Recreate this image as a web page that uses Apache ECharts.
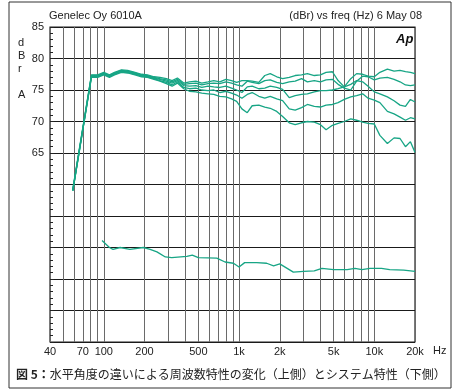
<!DOCTYPE html>
<html>
<head>
<meta charset="utf-8">
<script src="https://cdn.jsdelivr.net/npm/echarts@6/dist/echarts.min.js"></script>
<style>
  html, body { margin: 0; padding: 0; background: #fff; }
  #chart { width: 455px; height: 391px; }
</style>
</head>
<body>
<div id="chart"></div>
<script>
// frequency points (Hz) for the angle curves
const freq = [59, 81, 90, 100, 110, 120, 135, 150, 170, 190, 210, 235, 260, 290, 320, 350, 390,
  430, 480, 530, 590, 650, 720, 800, 880, 960, 1050, 1150, 1250, 1400, 1550, 1700, 1900, 2100,
  2350, 2600, 2900, 3200, 3600, 4000, 4400, 4900, 5400, 6000, 6700, 7400, 8200, 9000, 10000,
  11000, 12500, 14000, 15500, 17000, 18500, 20000];

// dBr, one curve per horizontal angle
const curveA = [59.3, 77.4, 77.4, 77.8, 77.4, 77.8, 78.2, 78.1, 77.8, 77.5, 77.4, 77.1, 77.0, 76.8, 76.5, 76.9, 76.1,
  76.3, 76.4, 76.1, 76.3, 76.5, 76.3, 76.7, 76.5, 76.2, 76.5, 76.5, 76.4, 76.2, 77.3, 77.6, 77.1, 76.8,
  77.0, 77.3, 77.4, 77.6, 77.3, 77.4, 77.8, 77.9, 76.5, 75.5, 76.8, 77.6, 77.5, 77.2, 77.1,
  77.8, 78.3, 78.0, 78.1, 77.9, 77.8, 77.6];
const curveB = [59.1, 77.3, 77.3, 77.7, 77.3, 77.7, 78.1, 78.0, 77.7, 77.4, 77.3, 77.0, 76.8, 76.6, 76.3, 76.7, 75.9,
  76.0, 76.1, 75.8, 76.0, 76.1, 76.0, 76.3, 76.1, 75.8, 75.6, 76.4, 76.2, 76.0, 76.5, 76.6, 76.2, 76.0,
  76.3, 76.4, 76.8, 76.3, 76.5, 76.3, 76.6, 76.7, 75.9, 75.3, 75.0, 76.4, 77.2, 77.1, 76.6,
  76.9, 77.0, 76.7, 76.3, 75.8, 75.7, 75.8];
const curveC = [59.1, 77.2, 77.2, 77.6, 77.2, 77.6, 78.0, 77.9, 77.6, 77.3, 77.2, 76.9, 76.7, 76.4, 76.1, 76.5, 75.7,
  75.6, 75.7, 75.4, 75.6, 75.5, 75.4, 75.6, 75.3, 75.0, 74.6, 75.5, 75.6, 75.2, 75.3, 75.6, 75.4, 75.1,
  73.8, 74.1, 74.3, 74.4, 74.7, 74.9, 74.9, 75.0, 75.2, 75.5, 75.9, 76.5, 76.3, 75.6, 74.7,
  74.4, 73.9, 73.3, 72.6, 72.4, 73.5, 73.1];
const curveD = [59.0, 77.1, 77.1, 77.5, 77.1, 77.5, 77.9, 77.8, 77.5, 77.2, 77.1, 76.8, 76.5, 76.2, 75.8, 76.3, 75.4,
  75.2, 75.3, 75.0, 74.9, 75.0, 74.6, 74.8, 74.5, 74.2, 73.7, 74.3, 74.6, 74.0, 73.7, 74.0, 73.6, 73.3,
  72.0, 71.8, 72.2, 72.7, 72.4, 72.3, 72.6, 72.7, 73.0, 73.5, 73.9, 74.1, 74.4, 73.7, 73.4,
  73.0, 71.6, 71.2, 70.7, 70.2, 70.6, 70.4];
const curveE = [59.0, 77.0, 77.0, 77.4, 77.0, 77.4, 77.8, 77.7, 77.4, 77.1, 77.0, 76.7, 76.4, 76.0, 75.6, 76.1, 75.2,
  74.8, 74.7, 74.5, 74.4, 74.3, 74.0, 73.9, 73.6, 73.2, 72.0, 71.4, 72.5, 72.6, 72.3, 72.1, 71.6, 70.8,
  69.8, 69.5, 69.8, 70.0, 69.9, 69.5, 68.7, 69.4, 69.7, 70.0, 70.4, 70.2, 69.9, 69.7, 69.6,
  67.8, 66.5, 67.4, 67.3, 66.0, 66.8, 65.1];

// system response (lower curve)
const sysFreq = [97, 110, 117, 132, 156, 196, 220, 247, 285, 318, 411, 451, 500, 684, 788, 909,
  1000, 1100, 1350, 1600, 1800, 2000, 2520, 3000, 3600, 4100, 5000, 6300, 7200, 8100, 9300,
  11300, 13000, 16500, 20000];
const sysVal = [51.1, 50.0, 49.7, 50.0, 49.7, 50.0, 49.7, 49.3, 48.5, 48.4, 48.6, 48.8, 48.4, 48.3, 47.7, 47.5,
  46.9, 47.6, 47.6, 47.5, 47.1, 47.4, 46.1, 46.2, 46.3, 46.7, 46.5, 46.5, 46.7, 46.5, 46.7,
  46.7, 46.5, 46.4, 46.2];

// axis grid / labels
const gridFreqs = [40, 50, 60, 70, 80, 90, 100, 200, 300, 400, 500, 600, 700, 800, 900,
  1000, 2000, 3000, 4000, 5000, 6000, 7000, 8000, 9000, 10000, 20000];
const labelFreqs = [40, 70, 100, 200, 500, 1000, 2000, 5000, 10000, 20000];
const yLabels = [65, 70, 75, 80, 85];

const lineColor = "#17a585";
const font = "'Liberation Sans', Arial, sans-serif";

const zip = (xs, ys) => xs.map((x, i) => [x, ys[i]]);

const chart = echarts.init(document.getElementById("chart"));

const makeSeries = (data) => ({
  type: "line",
  data: data,
  symbol: "none",
  lineStyle: { width: 1.3, color: lineColor },
  itemStyle: { color: lineColor },
  silent: true,
});

chart.setOption({
  animation: false,
  grid: {
    left: 50,
    right: 40,
    top: 27,
    bottom: 49,
    show: true,
    borderColor: "#222",
    borderWidth: 1.2,
  },
  xAxis: {
    type: "log",
    logBase: 10,
    min: 40,
    max: 20000,
    axisLine: { show: false },
    axisTick: { show: false, customValues: gridFreqs },
    splitLine: { show: true, lineStyle: { color: "#6a6a6a", width: 1 } },
    axisLabel: {
      customValues: labelFreqs,
      margin: 4,
      fontFamily: font,
      fontSize: 11,
      color: "#222",
      formatter: (v) => (v >= 1000 ? v / 1000 + "k" : String(v)),
    },
  },
  yAxis: {
    type: "value",
    min: 35,
    max: 85,
    interval: 5,
    axisLine: { show: false },
    axisTick: { show: true, inside: true, length: 4, lineStyle: { color: "#222" } },
    minorTick: { show: true, splitNumber: 5, length: 3, lineStyle: { color: "#222" } },
    splitLine: { show: true, lineStyle: { color: "#1a1a1a", width: 1.2 } },
    axisLabel: {
      margin: 6,
      fontFamily: font,
      fontSize: 11,
      color: "#222",
      formatter: (v) => (yLabels.indexOf(v) >= 0 ? String(v) : ""),
    },
  },
  series: [
    makeSeries(zip(freq, curveA)),
    makeSeries(zip(freq, curveB)),
    makeSeries(zip(freq, curveC)),
    makeSeries(zip(freq, curveD)),
    makeSeries(zip(freq, curveE)),
    makeSeries(zip(sysFreq, sysVal)),
  ],
  graphic: [
    {
      type: "rect",
      shape: { x: 9, y: 2, width: 442, height: 386 },
      style: { fill: "none", stroke: "#333", lineWidth: 1 },
      silent: true,
    },
    {
      type: "text",
      left: 49,
      top: 10,
      style: { text: "Genelec Oy 6010A", font: "11px " + font, fill: "#222" },
    },
    {
      type: "text",
      right: 33,
      top: 10,
      style: { text: "(dBr) vs freq (Hz) 6 May 08", font: "11px " + font, fill: "#222" },
    },
    {
      type: "text",
      left: 18,
      top: 37,
      style: {
        text: "d\nB\nr\n\nA",
        font: "11px " + font,
        lineHeight: 12.8,
        align: "center",
        fill: "#222",
      },
    },
    {
      type: "text",
      left: 396,
      top: 33,
      style: { text: "Ap", font: "italic bold 13px " + font, fill: "#111" },
    },
    {
      type: "text",
      left: 433,
      top: 345,
      style: { text: "Hz", font: "11px " + font, fill: "#222" },
    },
    {
      type: "text",
      left: 16,
      top: 368,
      style: {
        text: "{b|図 5：}水平角度の違いによる周波数特性の変化（上側）とシステム特性（下側）",
        font: "12px 'Noto Sans CJK JP'",
        fill: "#222",
        rich: {
          b: { font: "bold 12px 'Noto Sans CJK JP'", fill: "#222" },
        },
      },
    },
  ],
});
</script>
</body>
</html>
